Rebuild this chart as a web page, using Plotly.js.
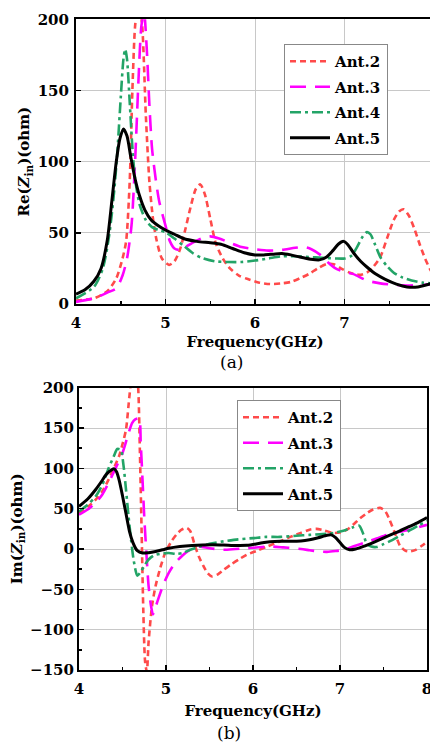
<!DOCTYPE html>
<html>
<head>
<meta charset="utf-8">
<script src="https://cdn.plot.ly/plotly-3.0.1.min.js"></script>
<style>
html, body { margin: 0; padding: 0; overflow: hidden; background: #fff; }
#chart { width: 434px; height: 742px; }
</style>
</head>
<body>
<div id="chart"></div>
<script>
// ---------- (a) Re(Zin) ----------
const reAnt2F = [4.0,4.2,4.35,4.45,4.52,4.56,4.60,4.63,4.66,4.70,4.74,4.78,4.82,4.86,4.90,4.96,5.04,5.10,5.16,5.22,5.28,5.34,5.39,5.44,5.50,5.56,5.64,5.72,5.82,5.92,6.05,6.17,6.30,6.40,6.50,6.60,6.70,6.80,6.88,6.96,7.06,7.17,7.25,7.32,7.40,7.48,7.55,7.61,7.66,7.72,7.78,7.84,7.90,7.96,8.0];
const reAnt2V = [2.5,4,9,18,32,44,86,150,195,215,195,133,86,60,45,32,27.5,30,38,52,68,81,84,77,60,43,32,25,20,17.5,15,14,14.5,15.5,18,21,25,28,28,25,22,20.5,22,26,33,47,59,65,66.5,62,53,42,32,24,20];

const reAnt3F = [4.0,4.2,4.35,4.45,4.52,4.57,4.62,4.66,4.70,4.73,4.76,4.79,4.82,4.85,4.89,4.93,5.0,5.05,5.10,5.16,5.22,5.30,5.40,5.50,5.60,5.72,5.85,6.0,6.15,6.30,6.45,6.55,6.63,6.73,6.82,6.90,7.0,7.10,7.25,7.40,7.55,7.73,7.90,8.0];
const reAnt3V = [1.5,4,8,11,20,32,55,100,160,195,205,180,140,109,88,72,55,44,39,38,40,43,46,47.5,46,43,40,38.5,37.5,38,39.5,40,38.5,34.5,29,25,22.5,21,16.5,14.5,13.5,13,13.5,14];

const reAnt4F = [4.0,4.2,4.30,4.37,4.42,4.46,4.50,4.53,4.55,4.57,4.60,4.63,4.66,4.71,4.78,4.85,4.92,5.0,5.10,5.20,5.30,5.40,5.55,5.70,5.85,6.0,6.15,6.30,6.45,6.60,6.75,6.90,7.0,7.08,7.14,7.20,7.25,7.29,7.34,7.40,7.47,7.55,7.65,7.75,7.87,8.0];
const reAnt4V = [4,12,25,48,75,105,145,172,179,172,142,110,88,70,59,54,52,50.5,46,41,36,32.5,30,29.5,29.5,30.5,32,33.5,33.5,33,32.5,32,32,34,40,47,50.5,49,42,33,27,22,18.5,16.5,15,14.5];

const reAnt5F = [4.0,4.1,4.2,4.28,4.35,4.40,4.45,4.49,4.53,4.57,4.61,4.66,4.71,4.77,4.84,4.92,5.0,5.10,5.20,5.35,5.50,5.62,5.75,5.88,6.0,6.10,6.20,6.30,6.40,6.50,6.62,6.72,6.80,6.87,6.93,6.99,7.04,7.10,7.18,7.25,7.35,7.45,7.58,7.70,7.82,7.92,8.0];
const reAnt5V = [7,10,16,25,45,72,100,116,123,118,104,88,76,66,59,55,52,49,46,44,43,42,39,36,34.5,34.5,35,35.5,34.5,33,31.5,31,33,37.5,42,44,41.5,36,30,26,21,17.5,14,12,12,13.5,15];

// ---------- (b) Im(Zin) ----------
const imAnt2F = [4.0,4.1,4.19,4.27,4.34,4.40,4.46,4.50,4.54,4.58,4.62,4.65,4.68,4.70,4.72,4.74,4.76,4.78,4.80,4.84,4.88,4.93,4.99,5.06,5.12,5.18,5.24,5.28,5.33,5.38,5.43,5.48,5.53,5.60,5.66,5.75,5.85,5.93,6.05,6.16,6.30,6.43,6.55,6.65,6.73,6.82,6.92,7.0,7.08,7.15,7.23,7.31,7.38,7.46,7.52,7.57,7.63,7.69,7.75,7.80,7.87,7.94,8.0];
const imAnt2V = [44.5,52,61,72,86,100,115,130,148,190,225,230,200,120,20,-80,-140,-152,-115,-70,-46,-25,-5,9,18,24,26,22,5,-10,-21,-30,-34,-31,-26,-19,-12,-7,-2,3,9,15,20,24,25,23,20,20.5,24,30,38,44.5,49,51,47,36,20,4,-2,-3,-1,4,9];

const imAnt3F = [4.0,4.1,4.19,4.27,4.34,4.42,4.50,4.56,4.61,4.65,4.69,4.71,4.73,4.75,4.77,4.80,4.83,4.85,4.88,4.92,4.97,5.03,5.10,5.19,5.26,5.33,5.39,5.5,5.66,5.8,5.93,6.1,6.23,6.35,6.46,6.55,6.65,6.75,6.85,6.95,7.04,7.15,7.31,7.42,7.54,7.67,7.80,7.90,8.0];
const imAnt3V = [42.5,49,57,68,82,100,119,140,156,161,162,130,86,40,3,-46,-72,-81,-72,-59,-44,-30,-18,-8,-2,2,3,1,-1,0,1,2.5,3,2,1,0,-1.5,-3,-3.5,-2.5,-1,3,9,13,17.5,21,24,27,30];

const imAnt4F = [4.0,4.1,4.19,4.27,4.34,4.40,4.44,4.48,4.51,4.54,4.57,4.60,4.63,4.67,4.71,4.75,4.80,4.86,4.93,5.03,5.12,5.19,5.28,5.39,5.5,5.66,5.83,6.0,6.15,6.31,6.5,6.65,6.8,6.93,7.05,7.15,7.22,7.27,7.31,7.36,7.42,7.5,7.6,7.7,7.8,7.9,8.0];
const imAnt4V = [46.5,55,65,80,100,115,124,123,105,74,40,10,-15,-33,-28,-21,-13,-8,-6,-5,-6,-5,-1,3,6.5,9.5,12,13.5,15,15,16.5,17.5,18.5,20,23,27,29,18,6,3,2.5,6,11,17,23,29,35];

const imAnt5F = [4.0,4.1,4.19,4.26,4.31,4.36,4.40,4.43,4.46,4.50,4.54,4.58,4.62,4.67,4.73,4.80,4.88,4.96,5.03,5.16,5.30,5.54,5.75,5.93,6.05,6.15,6.25,6.40,6.55,6.65,6.75,6.85,6.90,6.95,7.00,7.05,7.11,7.18,7.27,7.40,7.54,7.67,7.80,7.90,8.0];
const imAnt5V = [52.8,62,73.5,84,92,97,99.5,96,86,66,44,22,8,-2,-5,-4.5,-3,-1,1,3.2,4.5,5.3,4.5,4.6,6.5,8.5,9.4,9.5,10,11.5,14,17,17.5,14,8,2,-1,0,3.2,9,15.6,21.5,28,33,39];

const seriesNames = ["Ant.2","Ant.3","Ant.4","Ant.5"];
const xTickVals = [4,5,6,7,8];
const xTickText = ["4","5","6","7","8"];

const colors = ["#ff4a4a","#ff00ff","#23a467","#000000"];
const dashes = ["6px,4px","16px,9px","11px,4px,3px,4px","solid"];
const widths = [2.6,2.6,2.6,3];

const W = 434, H = 742;
const serif = "DejaVu Serif, Liberation Serif, serif";

function mk(x, y, i, xa, ya, legendId, grp) {
  return {
    x: x, y: y, name: seriesNames[i], type: "scatter", mode: "lines",
    xaxis: xa, yaxis: ya, legend: legendId, legendgroup: grp + i,
    line: {color: colors[i], width: widths[i], dash: dashes[i], shape: "spline", smoothing: 0.7}
  };
}

const data = [
  mk(reAnt2F, reAnt2V, 0, "x", "y", "legend", "a"),
  mk(reAnt3F, reAnt3V, 1, "x", "y", "legend", "a"),
  mk(reAnt4F, reAnt4V, 2, "x", "y", "legend", "a"),
  mk(reAnt5F, reAnt5V, 3, "x", "y", "legend", "a"),
  mk(imAnt2F, imAnt2V, 0, "x2", "y2", "legend2", "b"),
  mk(imAnt3F, imAnt3V, 1, "x2", "y2", "legend2", "b"),
  mk(imAnt4F, imAnt4V, 2, "x2", "y2", "legend2", "b"),
  mk(imAnt5F, imAnt5V, 3, "x2", "y2", "legend2", "b")
];

const tickFont = {family: serif, size: 15, color: "#000", weight: "bold"};
const titleFont = {family: serif, size: 15, color: "#000", weight: "bold"};

function xAxis(domain, anchor, titleStandoff) {
  return {
    domain: domain, anchor: anchor, range: [4, 8],
    tickvals: xTickVals, ticktext: xTickText,
    ticks: "inside", ticklen: 5, tickwidth: 1.5, tickcolor: "#000",
    ticklabelstandoff: 4,
    showline: true, linecolor: "#000", linewidth: 2, mirror: true,
    showgrid: true, gridcolor: "#c8c8c8", gridwidth: 1,
    zeroline: false, tickfont: tickFont,
    minor: {dtick: 0.5, tick0: 4, ticks: "inside", ticklen: 3, tickcolor: "#000", showgrid: false},
    title: {text: "Frequency(GHz)", font: titleFont, standoff: titleStandoff}
  };
}
function yAxis(domain, anchor, range, titleText, minorTicks, labelStandoff) {
  const ax = {
    domain: domain, anchor: anchor, range: range, dtick: 50, tick0: 0,
    ticks: "inside", ticklen: 5, tickwidth: 1.5, tickcolor: "#000",
    ticklabelstandoff: labelStandoff,
    showline: true, linecolor: "#000", linewidth: 2, mirror: true,
    showgrid: true, gridcolor: "#c8c8c8", gridwidth: 1,
    zeroline: false, tickfont: tickFont,
    title: {text: titleText, font: titleFont, standoff: 4}
  };
  if (minorTicks) ax.minor = {dtick: 25, tick0: 0, ticks: "inside", ticklen: 3, tickcolor: "#000", showgrid: false};
  return ax;
}

const legendBase = {
  xanchor: "left", yanchor: "top", bgcolor: "#fff", bordercolor: "#888", borderwidth: 1,
  font: {family: serif, size: 15, color: "#000", weight: "bold"},
  traceorder: "grouped", tracegroupgap: 3, itemwidth: 40
};

const layout = {
  width: W, height: H,
  margin: {l: 0, r: 0, t: 0, b: 0, autoexpand: false},
  paper_bgcolor: "#fff", plot_bgcolor: "#fff",
  showlegend: true,
  xaxis: xAxis([76 / W, 434 / W], "y", 5),
  yaxis: yAxis([1 - 304 / H, 1 - 19.3 / H], "x", [0, 200], "Re(<i>Z</i><sub>in</sub>)(ohm)", false, 2),
  xaxis2: xAxis([79 / W, 427 / W], "y2", 8),
  yaxis2: yAxis([1 - 670 / H, 1 - 387.7 / H], "x2", [-150, 200], "Im(<i>Z</i><sub>in</sub>)(ohm)", true, 0),
  legend: Object.assign({x: 284 / W, y: 1 - 44 / H}, legendBase),
  legend2: Object.assign({x: 237 / W, y: 1 - 400 / H}, legendBase),
  annotations: [
    {text: "(a)", xref: "paper", yref: "paper", x: 231 / W, y: 1 - 362 / H, showarrow: false,
     xanchor: "center", yanchor: "middle", font: {family: serif, size: 17, color: "#000"}},
    {text: "(b)", xref: "paper", yref: "paper", x: 229 / W, y: 1 - 733 / H, showarrow: false,
     xanchor: "center", yanchor: "middle", font: {family: serif, size: 17, color: "#000"}}
  ]
};

Plotly.newPlot("chart", data, layout, {displayModeBar: false, staticPlot: true});
</script>
</body>
</html>
